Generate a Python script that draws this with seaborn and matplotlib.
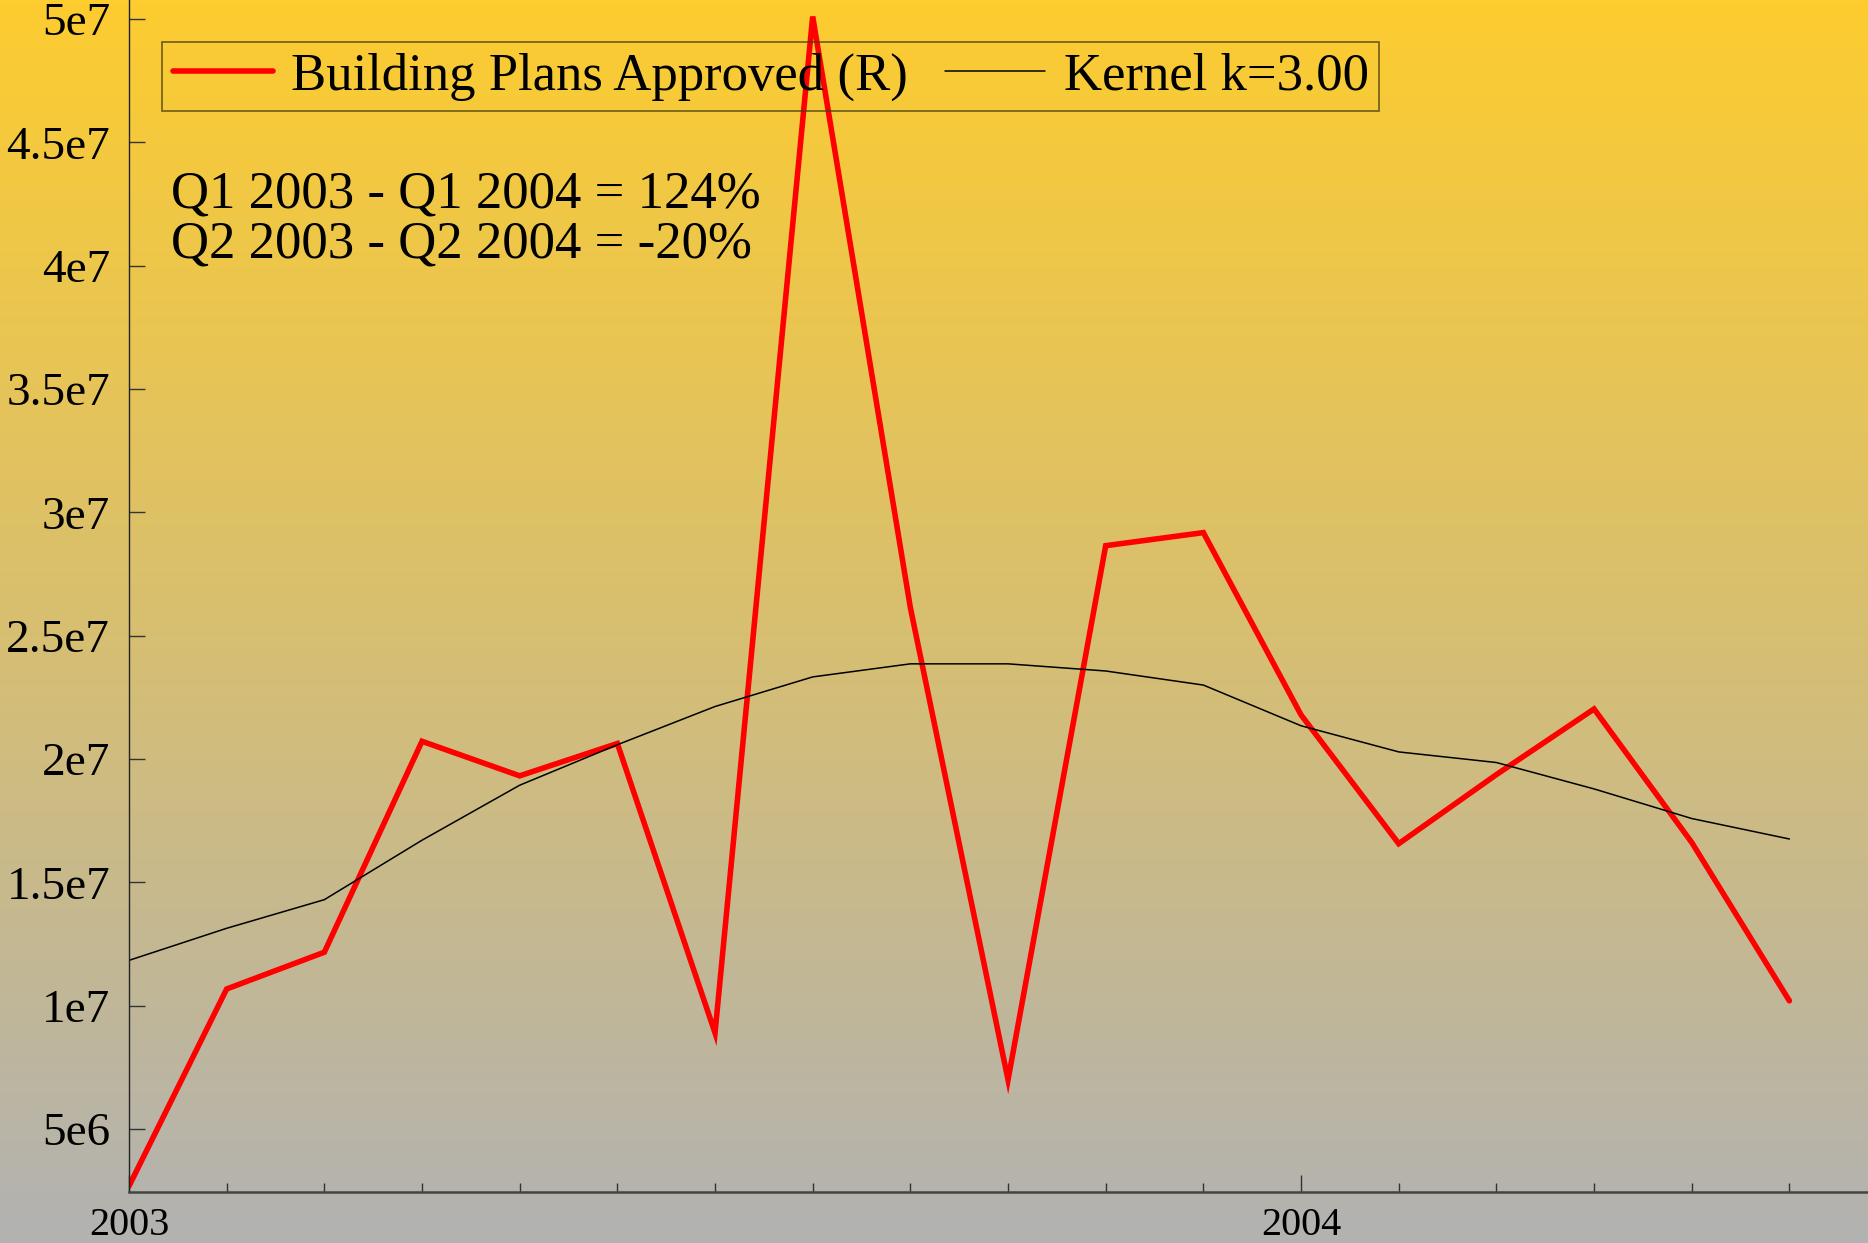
import numpy as np
import pandas as pd
import matplotlib
matplotlib.use("Agg")
import matplotlib.pyplot as plt
import seaborn as sns

# monthly values, Jan 2003 .. Jun 2004
months = list(range(18))
plans_approved = [2.69e6, 1.068e7, 1.217e7, 2.072e7, 1.932e7, 2.063e7,
                  8.9e6, 5.01e7, 2.614e7, 7.0e6, 2.865e7, 2.918e7,
                  2.179e7, 1.657e7, 1.937e7, 2.203e7, 1.662e7, 1.02e7]
kernel = [1.184e7, 1.314e7, 1.43e7, 1.671e7, 1.894e7, 2.058e7,
          2.213e7, 2.333e7, 2.386e7, 2.386e7, 2.357e7, 2.30e7,
          2.135e7, 2.029e7, 1.986e7, 1.879e7, 1.759e7, 1.676e7]
year_ticks = [0, 12]
year_labels = ["2003", "2004"]
y_ticks = [5e6, 1e7, 1.5e7, 2e7, 2.5e7, 3e7, 3.5e7, 4e7, 4.5e7, 5e7]
y_labels = ["5e6", "1e7", "1.5e7", "2e7", "2.5e7", "3e7", "3.5e7", "4e7", "4.5e7", "5e7"]
notes = ["Q1 2003 - Q1 2004 = 124%", "Q2 2003 - Q2 2004 = -20%"]

df = pd.DataFrame({"month": months, "Building Plans Approved (R)": plans_approved,
                   "Kernel k=3.00": kernel})

sns.set_style("ticks")
plt.rcParams["font.family"] = ["Liberation Serif", "DejaVu Serif"]
plt.rcParams["text.color"] = "black"
plt.rcParams["xtick.labelcolor"] = "black"
plt.rcParams["ytick.labelcolor"] = "black"

fig = plt.figure(figsize=(18.68, 12.43), dpi=100)

# gradient background gold -> grey
bg = fig.add_axes([0, 0, 1, 1], zorder=-10)
top = np.array([253, 204, 47]) / 255
bot = np.array([178, 178, 178]) / 255
t = np.linspace(0, 1, 256)[:, None]
grad = (top * (1 - t) + bot * t)[:, None, :]
bg.imshow(grad, aspect="auto", extent=[0, 1, 0, 1])
bg.axis("off")

ax = fig.add_axes([129 / 1868, 1 - 1192 / 1243, 1 - 129 / 1868, 1192 / 1243])
ax.set_facecolor("none")

sns.lineplot(data=df, x="month", y="Building Plans Approved (R)", ax=ax, color="#ff0000",
             linewidth=4, label="Building Plans Approved (R)")
sns.lineplot(data=df, x="month", y="Kernel k=3.00", ax=ax, color="black",
             linewidth=1.1, label="Kernel k=3.00")
for ln in ax.get_lines():
    ln.set_solid_joinstyle("miter")

ax.set_xlim(0, (1868 - 129) / 97.67)
ax.set_ylim(2.45e6, 5.077e7)
ax.set_xticks(year_ticks)
ax.set_xticklabels(year_labels)
ax.set_xticks(months, minor=True)
ax.set_yticks(y_ticks)
ax.set_yticklabels(y_labels)
ax.set_xlabel("")
ax.set_ylabel("")
ax.tick_params(axis="y", direction="in", length=11.5, width=1, color="#333333",
               labelsize=34, pad=13.5)
ax.tick_params(axis="x", which="major", direction="in", length=12.5, width=1,
               color="#333333", labelsize=29, pad=11)
ax.tick_params(axis="x", which="minor", direction="in", length=6.5, width=1, color="#333333")
for s in ["top", "right"]:
    ax.spines[s].set_visible(False)
ax.spines["left"].set_color("#222222")
ax.spines["left"].set_linewidth(1)
ax.spines["bottom"].set_color("#444444")
ax.spines["bottom"].set_linewidth(1.8)

leg = ax.legend(loc="upper left", bbox_to_anchor=(162 / 1868, 1 - 42 / 1243),
                bbox_transform=fig.transFigure, ncol=2, frameon=True, fancybox=False,
                fontsize=38, handlelength=1.9, handletextpad=0.35, columnspacing=0.7,
                borderpad=0.2, borderaxespad=0)
leg.get_frame().set_facecolor("none")
leg.get_frame().set_edgecolor("#4a3f10")
leg.get_frame().set_linewidth(1.2)

for i, txt in enumerate(notes):
    fig.text(171 / 1868, 1 - (207 + 51 * i) / 1243, txt, fontsize=38,
             ha="left", va="baseline")

fig.savefig("out.png", dpi=100)
